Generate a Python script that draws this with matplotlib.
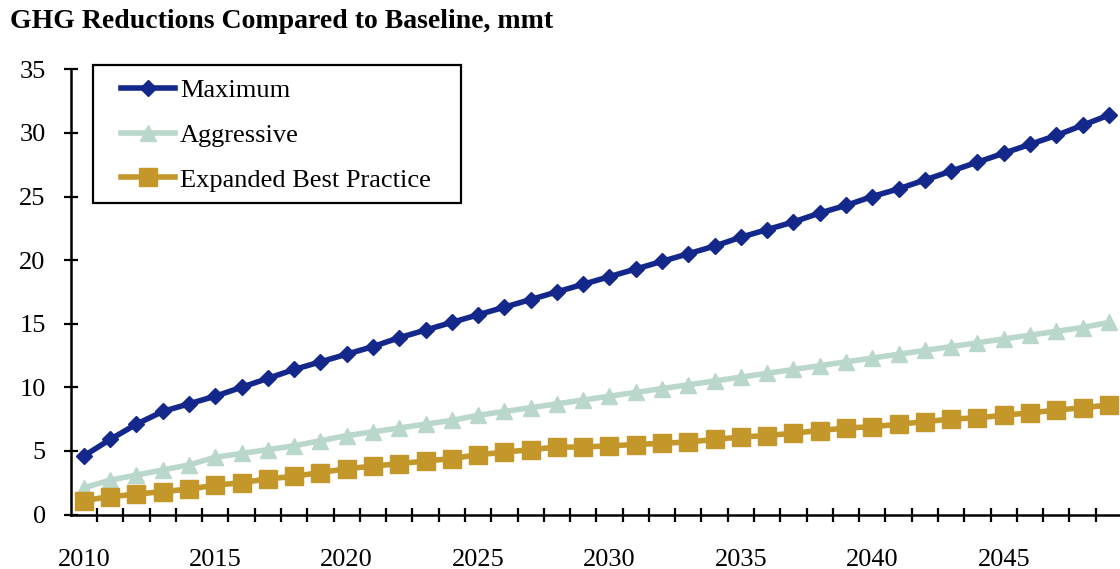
import numpy as np
import matplotlib
matplotlib.use("Agg")
import matplotlib.pyplot as plt
from matplotlib.patches import Rectangle
from matplotlib.ticker import FixedLocator

years = list(range(2010, 2050))

maximum = [4.6, 5.9, 7.1, 8.1, 8.7, 9.3, 10.0, 10.7, 11.4, 12.0,
           12.6, 13.2, 13.9, 14.5, 15.1, 15.7, 16.3, 16.9, 17.5, 18.1,
           18.7, 19.3, 19.9, 20.5, 21.1, 21.8, 22.4, 23.0, 23.7, 24.3,
           25.0, 25.6, 26.3, 27.0, 27.7, 28.4, 29.1, 29.8, 30.6, 31.4]

aggressive = [2.1, 2.7, 3.1, 3.5, 3.9, 4.5, 4.8, 5.1, 5.4, 5.8,
              6.2, 6.5, 6.8, 7.1, 7.4, 7.8, 8.1, 8.4, 8.7, 9.0,
              9.3, 9.6, 9.9, 10.2, 10.5, 10.8, 11.1, 11.4, 11.7, 12.0,
              12.3, 12.6, 12.9, 13.2, 13.5, 13.8, 14.1, 14.4, 14.7, 15.1]

expanded = [1.1, 1.4, 1.6, 1.8, 2.0, 2.3, 2.5, 2.8, 3.0, 3.3,
            3.6, 3.8, 4.0, 4.2, 4.4, 4.7, 4.9, 5.1, 5.3, 5.3,
            5.4, 5.5, 5.6, 5.7, 5.9, 6.1, 6.2, 6.4, 6.6, 6.8,
            6.9, 7.1, 7.3, 7.5, 7.6, 7.8, 8.0, 8.2, 8.4, 8.6]

year_labels = [2010, 2015, 2020, 2025, 2030, 2035, 2040, 2045]
y_ticks = [0, 5, 10, 15, 20, 25, 30, 35]

plt.rcParams['font.family'] = ['Liberation Serif', 'DejaVu Serif']

W, H = 1120, 569
fig = plt.figure(figsize=(W / 100, H / 100), dpi=100)
ax = fig.add_axes([70.7 / W, 1 - 514.5 / H, (1122 - 70.7) / W, (514.5 - 69.3) / H])

ax.plot(years, maximum, color='#13288a', lw=4.0, marker='D', markersize=8.5, label='Maximum')
ax.plot(years, aggressive, color='#b9d7cb', lw=4.0, marker='^', markersize=12, label='Aggressive')
ax.plot(years, expanded, color='#c4972a', lw=4.0, marker='s', markersize=13, label='Expanded Best Practice')

ax.set_xlim(2009.5, 2049.5)
ax.set_ylim(0, 35)
ax.set_yticks(y_ticks)
ax.set_xticks(year_labels)
ax.xaxis.set_minor_locator(FixedLocator(np.arange(2010.5, 2049.5, 1.0)))
ax.tick_params(axis='x', which='major', length=0, pad=24.5, labelsize=19)
ax.tick_params(axis='x', which='minor', direction='inout', length=10, width=1.6)
ax.tick_params(axis='y', direction='inout', length=10, width=1.6, labelsize=19, pad=13)

for side in ['top', 'right']:
    ax.spines[side].set_visible(False)
for side in ['left', 'bottom']:
    ax.spines[side].set_linewidth(1.8)

# legend box drawn by hand so the padding matches
box = Rectangle((93 / W, 1 - 203 / H), (461 - 93) / W, (203 - 65) / H,
                transform=fig.transFigure, facecolor='white',
                edgecolor='black', linewidth=1.6, zorder=5, clip_on=False)
ax.add_patch(box)
leg = ax.legend(loc='upper left', bbox_to_anchor=(121 / W, 1 - 78.5 / H),
                bbox_transform=fig.transFigure, fontsize=19, frameon=False,
                handlelength=2.05, handletextpad=0.19, labelspacing=0.81,
                borderpad=0, borderaxespad=0)
leg.set_zorder(6)

fig.text(10 / W, 1 - 21 / H, 'GHG Reductions Compared to Baseline, mmt',
         fontsize=20, fontweight='bold', va='center', ha='left')

fig.savefig('out.png', dpi=100)
